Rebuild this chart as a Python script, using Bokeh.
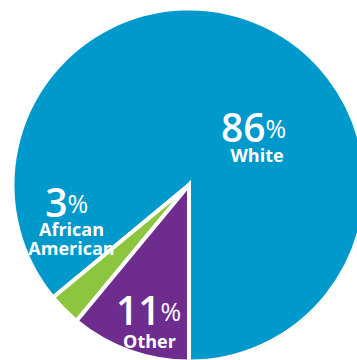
import math
from bokeh.plotting import figure
from bokeh.models import Range1d, ColumnDataSource
from bokeh.core.properties import value
from bokeh.embed import file_html
from bokeh.resources import INLINE

# ---- data ----
categories = ["White", "African American", "Other"]
percents = [86, 3, 11]
colors = ["#0099cc", "#8cc63f", "#6e2c8f"]

# ---- layout (pixel space of the picture) ----
W, H = 357, 360
CX, CY, R = 188.5, 184.5, 176.5
# label anchors: (split x between number and %, number baseline y, name centre x, name first baseline y)
label_pos = {
    "White": (265, 127, 256.5, 154),
    "African American": (67, 202, 71, 228),
    "Other": (160, 310, 149, 340),
}
LINE_STEP = 19


def dx(px):
    return (px - CX) / R


def dy(py):
    return (CY - py) / R


# wedge angles from data, starting straight down, counter-clockwise
total = float(sum(percents))
starts, ends = [], []
a = -math.pi / 2
for v in percents:
    starts.append(a)
    a += 2 * math.pi * v / total
    ends.append(a)

src = ColumnDataSource(dict(cat=categories, start=starts, end=ends, color=colors))

p = figure(width=W, height=H, output_backend="svg", toolbar_location=None,
           x_range=Range1d(dx(0), dx(W)), y_range=Range1d(dy(H), dy(0)),
           min_border=0)
p.axis.visible = False
p.grid.visible = False
p.outline_line_color = None
p.background_fill_color = "white"
p.border_fill_color = "white"

p.wedge(x=0, y=0, radius=1, start_angle="start", end_angle="end", direction="anticlock",
        fill_color="color", line_color="white", line_width=4, line_join="miter", source=src)

num_x, num_y, pct_x, pct_y, name_x, name_y, name_txt = [], [], [], [], [], [], []
nums, pcts = [], []
for c, v in zip(categories, percents):
    sx, by, nx, ny = label_pos[c]
    nums.append(str(v))
    num_x.append(dx(sx)); num_y.append(dy(by))
    pcts.append("%")
    pct_x.append(dx(sx)); pct_y.append(dy(by))
    for i, word in enumerate(c.split(" ")):
        name_txt.append(word)
        name_x.append(dx(nx)); name_y.append(dy(ny + i * LINE_STEP))

semi = value("'Open Sans SemiBold', 'Open Sans Semibold', 'Open Sans'")
font = value("Open Sans")
p.text(x=num_x, y=num_y, text=nums, text_font=semi, text_font_size="39px",
       text_color="white", text_align="right", text_baseline="alphabetic")
p.text(x=pct_x, y=pct_y, text=pcts, text_font=font, text_font_size="25px",
       text_color="white", text_align="left", text_baseline="alphabetic")
p.text(x=name_x, y=name_y, text=name_txt, text_font=font, text_font_size="18px",
       text_font_style="bold", text_color="white", text_align="center",
       text_baseline="alphabetic")

open("out.html", "w").write(file_html(p, INLINE))
